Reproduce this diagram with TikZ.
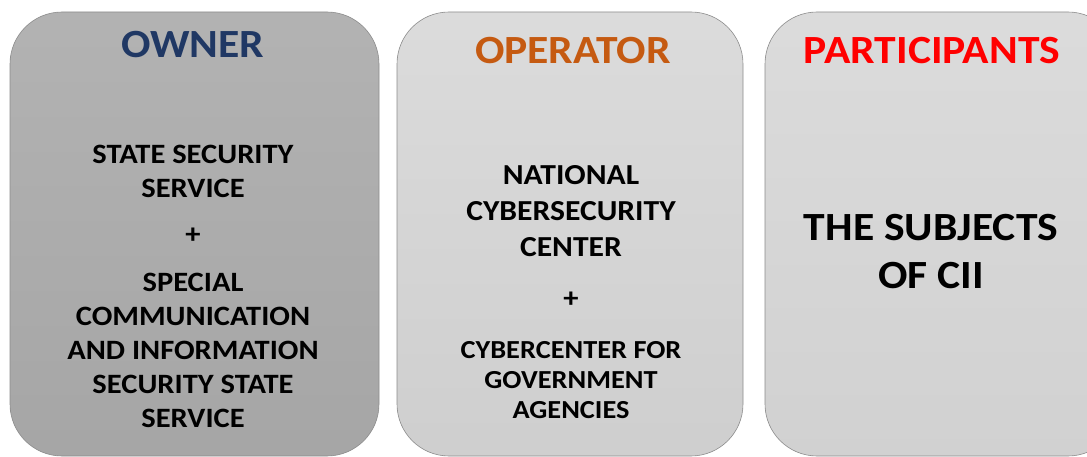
\documentclass[tikz,border=0pt]{standalone}
\usepackage{fontspec}
\setmainfont{Carlito}[FakeStretch=1.09]
\usepackage{tikz}
\usetikzlibrary{positioning}
\definecolor{ownerblue}{HTML}{203864}
\definecolor{operorange}{HTML}{C55A11}
\definecolor{partred}{HTML}{FF0000}

\begin{document}
\begin{tikzpicture}[x=1pt,y=-1pt,semithick,align=center,inner sep=0pt]
  \tikzstyle{panel}=[draw=black!45,rounded corners=52pt]
  \tikzstyle{title}=[font=\fontsize{40}{48}\selectfont\bfseries]
  \tikzstyle{body}=[font=\fontsize{28}{34}\selectfont\bfseries,text=black]

  \useasboundingbox (0,0) rectangle (1087,457);
  \clip (0,0) rectangle (1087,457);

  \draw[panel,top color=black!30,bottom color=black!35] (10,12) rectangle (379,456);
  \draw[panel,top color=black!14,bottom color=black!19] (397,12) rectangle (743,456);
  \draw[panel,top color=black!14,bottom color=black!18] (765,12) rectangle (1120,456);

  % titles
  \node[title,text=ownerblue]  (owner) at (193,45) {OWNER};
  \node[title,text=operorange] (oper)  at (573,51) {OPERATOR};
  \node[title,text=partred]    (part)  at (932,51) {PARTICIPANTS};

  % owner
  \node[body] (sss)  at (193,171) {STATE SECURITY\\ SERVICE};
  \node[body] (plA)  at (193,236) {+};
  \node[body] (scis) at (193,350) {SPECIAL\\ COMMUNICATION\\ AND INFORMATION\\ SECURITY STATE\\ SERVICE};

  % operator
  \node[body,font=\fontsize{29}{36}\selectfont\bfseries] (ncc) at (571,211) {NATIONAL\\ CYBERSECURITY\\ CENTER};
  \node[body] (plB) at (571,300) {+};
  \node[body,font=\fontsize{26}{30}\selectfont\bfseries] (cga) at (571,380) {CYBERCENTER FOR\\ GOVERNMENT\\ AGENCIES};

  % participants
  \node[body,font=\fontsize{40}{48}\selectfont\bfseries] (cii) at (931,252) {THE SUBJECTS\\ OF CII};
\end{tikzpicture}
\end{document}
